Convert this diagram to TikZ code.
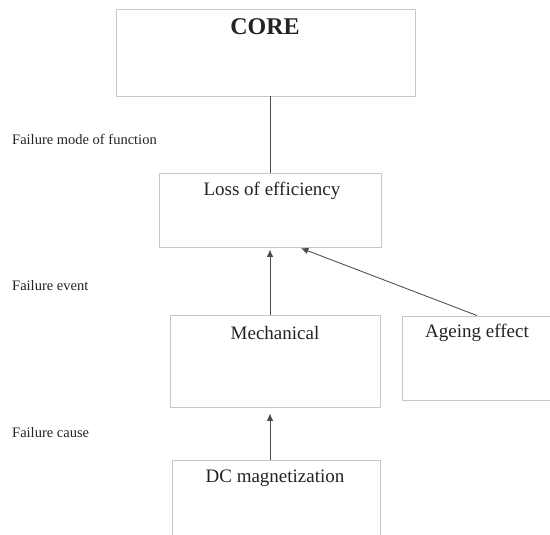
\documentclass[tikz,border=0pt]{standalone}
\usepackage{fontspec}
\setmainfont{Liberation Serif}
\usetikzlibrary{arrows.meta}
\definecolor{boxgray}{RGB}{196,202,188}
\definecolor{linegray}{RGB}{75,75,75}
\definecolor{inkgray}{RGB}{35,35,35}

\begin{document}
\begin{tikzpicture}[x=1pt,y=-1pt,
		box/.style={draw=boxgray, line width=0.9pt, inner sep=0pt},
		txt/.style={text=inkgray, inner sep=0pt, font=\fontsize{19}{22}\selectfont},
		side/.style={text=inkgray, anchor=west, inner sep=0pt, font=\fontsize{14.5}{16}\selectfont},
		link/.style={draw=linegray, line width=0.85pt},
		arr/.style={link, -{Latex[length=7.5pt,width=6.5pt]}}]
			\useasboundingbox (0,0) rectangle (550,535);
			\clip (0,0) rectangle (550,535);
			% boxes
			\node[box, minimum width=299pt, minimum height=87pt] (core) at (265.5,52.5) {};
			\node[box, minimum width=222pt, minimum height=74pt] (loss) at (270,210) {};
			\node[box, minimum width=210pt, minimum height=92pt] (mech) at (275,361) {};
			\node[box, minimum width=150pt, minimum height=84pt] (ageing) at (477,358) {};
			\node[box, minimum width=208pt, minimum height=100pt] (dc) at (276,510) {};
			% box texts
			\node[txt, font=\fontsize{24}{28}\selectfont\bfseries] (core-t) at (265,27) {CORE};
			\node[txt] (loss-t) at (272,191) {Loss of efficiency};
			\node[txt] (mech-t) at (275,333) {Mechanical};
			\node[txt] (ageing-t) at (477,333) {Ageing effect};
			\node[txt] (dc-t) at (275,478) {DC magnetization};
			% levels
			\node[side] (mode) at (12,139) {Failure mode of function};
			\node[side] (event) at (12,286) {Failure event};
			\node[side] (cause) at (12,433) {Failure cause};
			% connectors
			\draw[link] (loss.north |- core.south) -- (loss.north);
			\draw[arr, shorten >=2pt] (loss.south |- mech.north) -- (loss.south);
			\draw[arr, shorten >=2pt] (ageing.north) -- ([xshift=29pt]loss.south);
			\draw[arr, shorten >=6pt] (loss.south |- dc.north) -- (loss.south |- mech.south);
		\end{tikzpicture}
\end{document}
